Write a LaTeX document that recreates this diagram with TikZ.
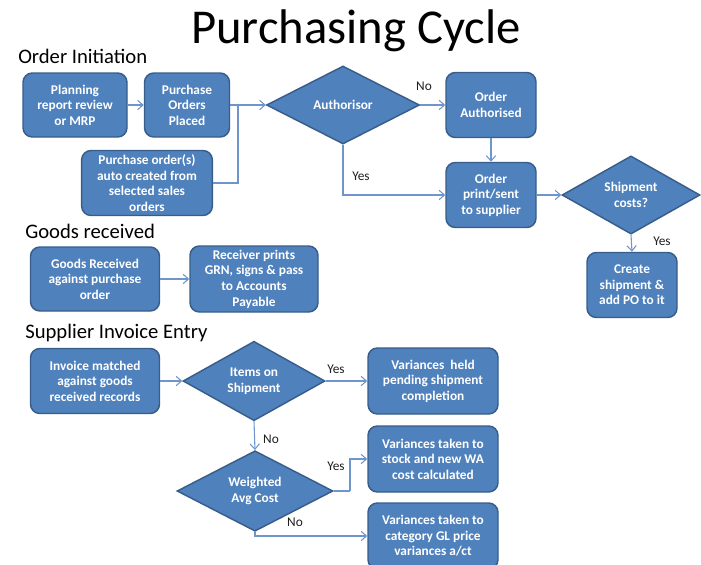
\documentclass[tikz,border=0pt]{standalone}
\usepackage{fontspec}
\setmainfont{Carlito}
\usetikzlibrary{shapes.geometric,arrows.meta}
\definecolor{boxfill}{RGB}{79,129,189}
\definecolor{boxline}{RGB}{56,93,138}
\definecolor{conn}{RGB}{110,150,205}
\definecolor{lbl}{RGB}{30,30,30}
\tikzset{
  box/.style={draw=boxline, line width=1.1pt, fill=boxfill, rounded corners=7pt,
    text=white, align=center, inner sep=1pt,
    font=\bfseries\fontsize{10}{11.7}\selectfont},
  dia/.style={diamond, draw=boxline, line width=1.1pt, fill=boxfill,
    text=white, align=center, inner sep=0pt,
    font=\bfseries\fontsize{10}{11.7}\selectfont},
  conline/.style={draw=conn, line width=0.8pt},
  arr/.style={conline, -{Straight Barb[length=4pt,width=7pt]}},
  lab/.style={text=lbl, font=\fontsize{10}{12}\selectfont, inner sep=0pt},
  head/.style={anchor=base west, inner sep=0pt, text=black, font=\fontsize{15.5}{18}\selectfont},
}
\begin{document}
\begin{tikzpicture}[x=0.75pt,y=-0.75pt]
\useasboundingbox (0,0) rectangle (701,565);
\node[anchor=base, inner sep=0pt, font=\fontsize{36.5}{40}\selectfont] (title) at (356,43) {Purchasing Cycle};
\node[head] (h1) at (18,63) {Order Initiation};
\node[head] (h2) at (25,238) {Goods received};
\node[head] (h3) at (25,338) {Supplier Invoice Entry};

% Order initiation
\node[box, minimum width=78pt, minimum height=48pt] (plan) at (75,105) {Planning\\report review\\or MRP};
\node[box, minimum width=63.75pt, minimum height=48pt] (pop) at (187,105) {Purchase\\Orders\\Placed};
\node[box, minimum width=98pt, minimum height=48.75pt] (auto) at (147,183) {Purchase order(s)\\auto created from\\selected sales\\orders};
\node[dia, minimum width=114.75pt, minimum height=58.5pt] (auth) at (343,105) {Authorisor};
\node[box, minimum width=67.5pt, minimum height=48.75pt] (oa) at (491,105) {Order\\Authorised};
\node[box, minimum width=67.5pt, minimum height=48.75pt] (op) at (491,195) {Order\\print/sent\\to supplier};
\node[dia, minimum width=103.5pt, minimum height=57pt] (ship) at (631,195) {Shipment\\costs?};
\node[box, minimum width=67.5pt, minimum height=48.75pt] (create) at (632,285) {Create\\shipment \&\\add PO to it};
\coordinate (jn) at (238,105);

\draw[arr] (plan) -- (pop);
\draw[arr] (pop.east) -- (auth.west);
\draw[conline] (auto.east) -| (jn);
\draw[arr] (auth.east) -- (oa.west);
\draw[arr] (oa.south) -- (op.north);
\draw[arr] (auth.south) |- (op.west);
\draw[arr] (op.east) -- (ship.west);
\draw[arr] (ship.south) -- (create.north);
\node[lab] (l1) at (424,86) {No};
\node[lab] (l2) at (361,176) {Yes};
\node[lab] (l3) at (662,241) {Yes};

% Goods received
\node[box, minimum width=96.75pt, minimum height=48pt] (gr) at (95,279) {Goods Received\\against purchase\\order};
\node[box, minimum width=96pt, minimum height=49.5pt] (rp) at (254,279) {Receiver prints\\GRN, signs \& pass\\to Accounts\\Payable};
\draw[arr] (gr) -- (rp);

% Supplier invoice entry
\node[box, minimum width=96.75pt, minimum height=48.75pt] (inv) at (95,381) {Invoice matched\\against goods\\received records};
\node[dia, minimum width=106.5pt, minimum height=57.75pt] (items) at (254,381) {Items on\\Shipment};
\node[box, minimum width=97.5pt, minimum height=49.5pt] (vh) at (433,381) {Variances\ \ held\\pending shipment\\completion};
\node[dia, minimum width=117pt, minimum height=57pt] (wac) at (255,491) {Weighted\\Avg Cost};
\node[box, minimum width=97.5pt, minimum height=49.5pt] (vs) at (433,459) {Variances taken to\\stock and new WA\\cost calculated};
\node[box, minimum width=97.5pt, minimum height=49.5pt] (vg) at (433,536) {Variances taken to\\category GL price\\variances a/ct};
\coordinate (k1) at (350,491);

\draw[arr] (inv.east) -- (items.west);
\draw[arr] (items.east) -- (vh.west);
\draw[arr] (items.south) -- (wac.north);
\draw[conline] (wac.east) -- (k1);
\draw[arr] (k1) |- (vs.west);
\draw[arr] (wac.south) |- (vg.west);
\node[lab] (l4) at (336,369) {Yes};
\node[lab] (l5) at (271,439) {No};
\node[lab] (l6) at (336,466) {Yes};
\node[lab] (l7) at (295,522) {No};
\end{tikzpicture}
\end{document}
